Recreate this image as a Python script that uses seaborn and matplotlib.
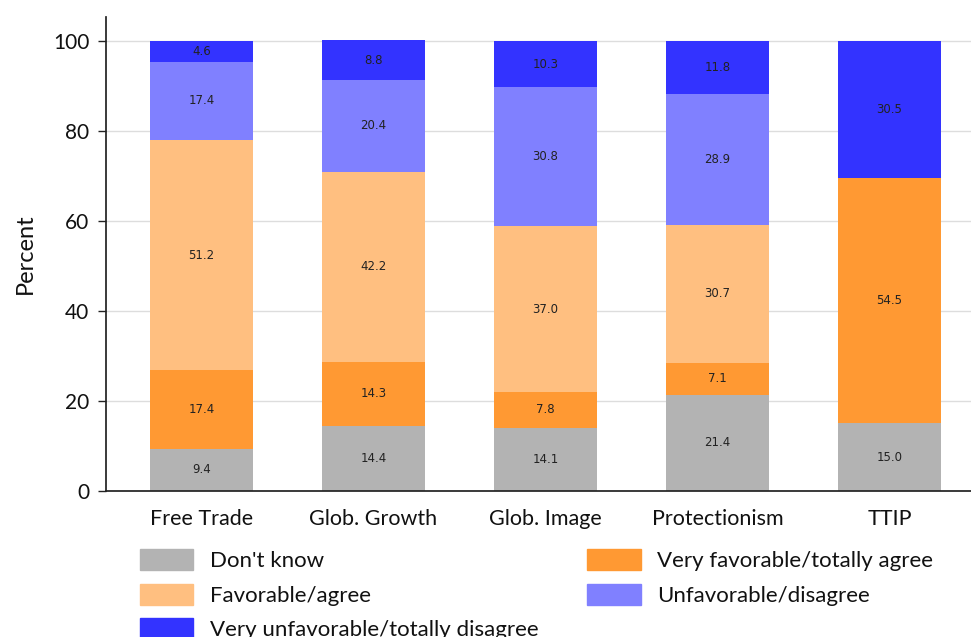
import matplotlib
matplotlib.use("Agg")
import matplotlib.pyplot as plt
import seaborn as sns
import numpy as np
from matplotlib.patches import Patch

categories = ["Free Trade", "Glob. Growth", "Glob. Image", "Protectionism", "TTIP"]
dont_know = [9.4, 14.4, 14.1, 21.4, 15.0]
very_fav = [17.4, 14.3, 7.8, 7.1, 54.5]
fav = [51.2, 42.2, 37.0, 30.7, 0.0]
unfav = [17.4, 20.4, 30.8, 28.9, 0.0]
very_unfav = [4.6, 8.8, 10.3, 11.8, 30.5]

series_names = ["Don't know", "Very favorable/totally agree", "Favorable/agree",
                "Unfavorable/disagree", "Very unfavorable/totally disagree"]
series_vals = [dont_know, very_fav, fav, unfav, very_unfav]
colors = ["#b3b3b3", "#ff9933", "#ffbf80", "#8080ff", "#3333ff"]

sns.set_theme(style="white")
plt.rcParams['font.family'] = ['Lato', 'DejaVu Sans']

fig = plt.figure(figsize=(9.71, 6.37), dpi=100)
ax = fig.add_axes([0.1092, 0.2292, 0.8908, 0.7441])

bottom = np.zeros(len(categories))
for name, vals, col in zip(series_names, series_vals, colors):
    vals = np.array(vals)
    sns.barplot(x=categories, y=vals, bottom=bottom, color=col, width=0.6,
                ax=ax, saturation=1, linewidth=0)
    cont = ax.containers[-1]
    labels = [f"{v:.1f}" if v > 0 else "" for v in vals]
    ax.bar_label(cont, labels=labels, label_type="center", fontsize=8.5,
                 color="#222222", family="DejaVu Sans")
    bottom = bottom + vals

ax.set_ylim(0, 105.3)
ax.set_xlim(-0.555, 4.474)
ax.set_yticks([0, 20, 40, 60, 80, 100])
ax.yaxis.grid(True, color="#dddddd", linewidth=1)
ax.set_axisbelow(True)
for s in ["top", "right"]:
    ax.spines[s].set_visible(False)
ax.spines["left"].set_color("#222222")
ax.spines["bottom"].set_color("#222222")
ax.tick_params(axis="y", which="both", left=True, length=6, width=1, color="#222222",
               labelsize=15, pad=6, labelcolor="#111111")
ax.tick_params(axis="x", bottom=False, labelsize=15.5, pad=7, labelcolor="#111111")
ax.set_ylabel("Percent", fontsize=17, labelpad=12, color="#111111")
ax.set_xlabel("")

legend_order = [0, 2, 4, 1, 3]
handles = [Patch(facecolor=colors[i], edgecolor=colors[i], label=series_names[i]) for i in legend_order]
leg = fig.legend(handles=handles, ncol=2, loc="upper left", bbox_to_anchor=(0.135, 0.152),
                 frameon=False, fontsize=16, handlelength=2.4, handleheight=1.1,
                 handletextpad=0.75, columnspacing=2.2, labelspacing=0.55, borderaxespad=0)
for t in leg.get_texts():
    t.set_color("#111111")

fig.savefig("out.png", dpi=100)
